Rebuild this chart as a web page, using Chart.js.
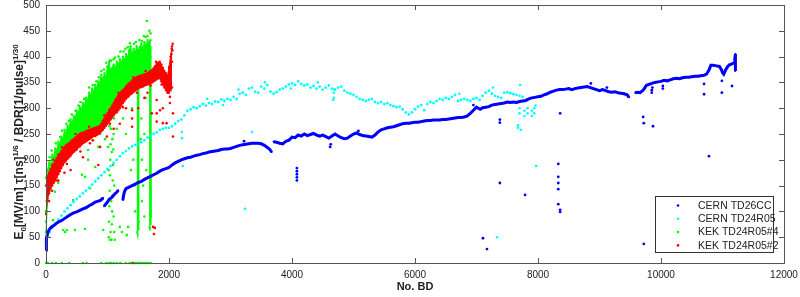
<!DOCTYPE html>
<html>
<head>
<meta charset="utf-8">
<script src="https://cdn.jsdelivr.net/npm/chart.js@4.4.1/dist/chart.umd.min.js"></script>
<style>
html, body { margin: 0; padding: 0; background: #fff; }
</style>
</head>
<body>
<canvas id="bdChart" width="800" height="297"></canvas>
<script>
// Etiquetas y ejes
const seriesNames = ['CERN TD26CC', 'CERN TD24R05', 'KEK TD24R05#4', 'KEK TD24R05#2'];
const seriesColors = ['#0000ff', '#00ffff', '#00ff00', '#ff0000'];
const xTicks = [0, 2000, 4000, 6000, 8000, 10000, 12000];
const yTicks = [0, 50, 100, 150, 200, 250, 300, 350, 400, 450, 500];

// CERN TD26CC (azul) - traza principal, null = hueco
const blueTrack = [
  [0,25],[4,40],[10,48],[20,55],[40,62],[60,66],[90,70],[130,73],[170,77],[210,80],[250,82],[300,86],
  [350,90],[400,94],[450,97],[500,99],[550,102],[600,105],[650,107],[700,111],[750,114],[800,118],
  [850,120],[880,121],[910,124],[930,126],[935,null],
  [945,110],[970,114],[1000,118],[1030,124],[1060,126],[1090,130],[1120,134],[1150,137],[1175,141],[1180,null],
  [1250,122],[1260,130],[1275,138],[1300,144],[1350,147],[1400,150],[1450,153],[1500,156],[1550,158],
  [1600,162],[1650,165],[1700,168],[1750,171],[1800,174],[1850,178],[1900,181],[1950,183],[2000,185],
  [2050,190],[2100,194],[2150,197],[2200,200],[2250,202],[2300,204],[2350,205],[2400,207],[2450,209],
  [2500,210],[2550,212],[2600,213],[2650,215],[2700,216],[2750,217],[2800,218],[2850,220],[2900,221],
  [2950,221],[3000,222],[3050,224],[3100,226],[3150,228],[3200,229],[3250,230],[3300,231],[3350,232],
  [3400,232],[3450,232],[3500,231],[3550,228],[3600,224],[3640,220],[3670,215],[3685,null],
  [3700,235],[3750,234],[3800,232],[3850,231],[3900,236],[3950,238],[4000,244],[4050,243],[4100,248],
  [4150,246],[4200,250],[4250,247],[4300,249],[4350,251],[4400,248],[4450,246],[4500,248],[4550,245],
  [4600,242],[4650,246],[4700,250],[4750,246],[4800,243],[4850,241],[4900,242],[4950,246],[5000,250],
  [5050,252],[5100,249],[5150,247],[5200,246],[5250,245],[5300,244],[5350,248],[5400,254],[5450,258],
  [5500,260],[5550,262],[5600,263],[5650,264],[5700,266],[5750,268],[5800,270],[5850,271],[5900,271],
  [5950,272],[6000,273],[6050,273],[6100,274],[6150,275],[6200,276],[6250,276],[6300,277],[6350,277],
  [6400,277],[6450,278],[6500,278],[6550,279],[6600,280],[6650,281],[6700,282],[6750,282],[6800,283],
  [6850,285],[6900,290],[6950,296],[7000,302],[7030,300],[7060,298],[7100,301],[7150,302],[7200,303],
  [7250,306],[7300,307],[7350,308],[7400,309],[7450,310],[7500,312],[7550,311],[7600,312],[7650,311],
  [7700,313],[7750,314],[7800,315],[7850,318],[7900,320],[7950,321],[8000,322],[8050,323],[8100,326],
  [8150,328],[8200,331],[8250,333],[8300,335],[8350,336],[8400,336],[8450,337],[8500,338],[8550,336],
  [8600,338],[8650,339],[8700,340],[8750,341],[8800,342],[8850,340],[8900,338],[8950,336],[9000,334],
  [9050,336],[9100,334],[9150,332],[9200,331],[9250,332],[9300,330],[9350,329],[9400,328],[9450,326],
  [9480,321],[9500,null],
  [9580,330],[9620,331],[9660,330],[9700,334],[9730,338],[9760,344],[9800,346],[9850,348],[9900,350],
  [9950,351],[10000,352],[10050,354],[10100,353],[10150,355],[10200,357],[10250,358],[10300,357],
  [10350,359],[10400,360],[10450,360],[10500,361],[10550,362],[10600,362],[10650,363],[10700,364],
  [10740,366],[10780,374],[10810,383],[10850,383],[10900,382],[10950,381],[10980,375],[11000,369],
  [11020,366],[11050,374],[11080,380],[11110,384],[11140,385],[11170,387],[11190,388],[11200,395],
  [11210,405],[11215,380],[11205,372]
];
const blueStray = [
  [4080,160],[4080,166],[4080,172],[4080,178],[4080,184],[4620,225],[4630,230],[7105,48],[7170,27],
  [7380,155],[7380,272],[7380,278],[7790,132],[8330,192],[8330,167],[8330,155],[8330,143],[8330,114],
  [8360,103],[8360,99],[8360,290],[9710,283],[9720,271],[9870,265],[10780,207],[9720,37],[10700,347],
  [10700,327],[10990,353],[10990,330],[11155,343],[9850,335],[9850,330],[9860,340],[10030,338],[10030,343],
  [3220,236],[5080,256],[6950,306],[8860,348],[9120,340]
];

// CERN TD24R05 (cian)
const cyanTrack = [
  [0,40],[10,45],[30,52],[60,60],[100,68],[150,76],[200,84],[250,92],[300,100],[350,106],[400,112],
  [450,118],[500,124],[550,129],[600,135],[650,140],[700,146],[750,152],[800,158],[850,164],[900,170],
  [950,176],[1000,182],[1050,188],[1100,194],[1150,200],[1200,207],[1250,213],[1300,217],[1350,222],
  [1400,226],[1450,229],[1500,231],[1550,234],[1600,238],[1650,243],[1700,247],[1750,250],[1800,253],
  [1850,258],[1900,260],[1950,262],[2000,262],[2050,265],[2100,270],[2150,275],[2200,278],[2250,286],
  [2300,295],[2350,298],[2400,302],[2450,300],[2500,304],[2550,308],[2600,305],[2650,310],[2700,308],
  [2750,313],[2800,312],[2850,317],[2900,314],[2950,318],[3000,316],[3050,322],[3100,318],[3150,328],
  [3200,330],[3250,326],[3300,338],[3350,340],[3400,332],[3450,330],[3500,342],[3550,338],[3600,345],
  [3650,332],[3700,328],[3750,331],[3800,336],[3850,338],[3900,342],[3950,346],[4000,348],[4050,345],
  [4100,352],[4150,347],[4200,344],[4250,346],[4300,340],[4350,343],[4400,338],[4450,342],[4500,336],
  [4550,340],[4600,344],[4650,338],[4700,336],[4750,340],[4800,342],[4850,334],[4900,330],[4950,328],
  [5000,326],[5050,322],[5100,318],[5150,316],[5200,314],[5250,316],[5300,318],[5350,312],[5400,310],
  [5450,312],[5500,308],[5550,310],[5600,306],[5650,304],[5700,302],[5750,303],[5800,298],[5850,292],
  [5900,288],[5950,292],[6000,298],[6050,303],[6100,306],[6150,296],[6200,308],[6250,312],[6300,310],
  [6350,314],[6400,318],[6450,316],[6500,320],[6550,318],[6600,322],[6650,326],[6700,314],[6750,316],
  [6800,318],[6850,316],[6900,314],[6950,318],[7000,320],[7050,316],[7100,324],[7150,330],[7200,334],
  [7250,328],[7300,324],[7350,322],[7400,320],[7450,330],[7500,331],[7550,329],[7600,327],[7650,326],
  [7700,324],[7750,322]
];
const cyanStray = [
  [3350,254],[3235,105],[7970,188],[7335,50],[2210,254],[2210,242],[2225,188],[7675,267],[7675,262],
  [7700,290],[7700,300],[7710,345],[7780,285],[7780,295],[7830,290],[7830,300],[7900,285],[7900,295],
  [7940,290],[7940,300],[7960,305],[4680,320],[4680,330],[4690,336],[4670,316],[7720,258],
  [2620,318],[2880,306],[3130,336],[3560,350],[3980,338],[4420,350],[6720,328],[7270,340]
];

// KEK TD24R05#4 (verde) - bordes de la nube densa
const greenLower = [
  [0,60],[25,120],[50,150],[75,160],[100,170],[125,175],[150,180],[175,185],[200,190],[225,195],
  [250,198],[275,202],[300,206],[325,210],[350,214],[375,218],[400,222],[425,225],[450,228],[475,230],
  [500,232],[525,235],[550,238],[575,240],[600,240],[625,242],[650,244],[675,246],[700,248],[725,250],
  [750,250],[775,252],[800,252],[825,254],[850,255],[875,256],[900,258],[925,262],[950,265],[975,270],
  [1000,275],[1025,280],[1050,285],[1075,290],[1100,295],[1125,300],[1150,305],[1175,310],[1200,315],
  [1225,318],[1250,322],[1275,325],[1300,328],[1325,332],[1350,335],[1375,338],[1400,340],[1425,342],
  [1450,345],[1475,346],[1500,348],[1525,350],[1550,350],[1575,352],[1600,352],[1625,354],[1650,355],
  [1675,356],[1700,358]
];
const greenUpper = [
  [0,165],[25,180],[50,195],[75,190],[100,210],[125,205],[150,222],[175,218],[200,235],[225,230],
  [250,245],[275,240],[300,258],[325,252],[350,266],[375,262],[400,278],[425,270],[450,285],[475,280],
  [500,295],[525,290],[550,302],[575,298],[600,310],[625,305],[650,320],[675,315],[700,330],[725,325],
  [750,338],[775,332],[800,345],[825,340],[850,352],[875,348],[900,365],[925,355],[950,368],[975,362],
  [1000,380],[1025,390],[1050,372],[1075,378],[1100,385],[1125,376],[1150,390],[1175,384],[1200,395],
  [1225,388],[1250,400],[1275,392],[1300,405],[1325,398],[1350,412],[1375,420],[1400,405],[1425,415],
  [1450,408],[1475,420],[1500,412],[1525,418],[1550,425],[1575,415],[1600,428],[1625,420],[1650,432],
  [1675,425],[1700,432]
];
const greenColumns = [
  [1480,60],[1487,360],[1492,55],[1497,350],[1502,65],[1507,340],[1512,80],[1515,null],
  [1680,70],[1686,430],[1691,65],[1696,420],[1701,75],[1706,400],[1710,90],[1712,null]
];
const greenStray = [
  [0,60],[0,80],[0,100],[10,120],[30,120],[60,140],[115,83],[145,138],[200,155],[280,64],[310,60],
  [340,64],[440,122],[470,64],[585,171],[635,167],[635,66],[685,219],[685,200],[715,145],[765,238],
  [800,186],[850,225],[930,64],[1010,225],[1120,45],[1200,70],[1235,60],[1315,54],[1335,70],[880,250],
  [960,240],[1150,260],[1250,280],[1300,250],[1400,300],[1420,200],[1440,150],[1550,280],[1560,200],
  [1580,150],[1600,250],[1620,320],[1640,469],[1650,440],[1680,450],[1040,393],[1210,410],[1365,426],
  [1460,428],[1560,430],[1000,380],[900,372],[1100,395],[60,205],[160,232],[260,256],[420,288],
  [560,312],[760,345],[940,375],[1120,398],[1290,415],[1430,425],[1590,440],[330,270],[700,340],
  [90,218],[230,244],[370,275],[480,295],[620,318],[820,352],[980,388],[1180,400],[1330,418],
  [1520,432],[1620,438],[1700,445],[1260,410],[1060,392],[860,360],[530,305],
  [1020,50],[1025,80],[1030,110],[1035,140],[1040,170],[1045,200],[1050,230],[1055,260],[1060,290],
  [1065,45],[1070,75],[1075,100],[1080,130],[1085,160],[1090,190],[1095,220],[1100,250],[1105,280],
  [1110,60],[1110,150],[1040,45],[1060,120],[1070,215],[1030,265],[1090,300],[1050,60],[1100,90],
  [1080,240],[1020,180],[1025,320],[1560,120],[1600,90],[1630,180],[1540,240],[1450,100],[1380,180]
];
const greenZero = [
  [0,0],[30,0],[100,0],[160,0],[260,0],[380,0],[600,0],[660,0],[900,0],[980,0],[1020,0],[1060,0],
  [1100,0],[1150,0],[1210,0],[1300,0],[1360,0],[1400,0],[1430,0],[1460,0],[1490,0],[1520,0],[1550,0],
  [1580,0],[1610,0],[1640,0],[1670,0],[1700,0]
];

// KEK TD24R05#2 (rojo) - bordes de la banda
const redLower = [
  [0,95],[25,125],[50,135],[75,145],[100,150],[125,155],[150,160],[175,166],[200,172],[225,178],
  [250,184],[275,190],[300,195],[325,198],[350,202],[375,205],[400,208],[425,212],[450,215],[475,218],
  [500,220],[525,224],[550,226],[575,229],[600,232],[625,234],[650,236],[675,238],[700,240],[725,242],
  [750,244],[775,246],[800,246],[825,248],[850,250],[875,252],[900,255],[925,258],[950,262],[975,266],
  [1000,270],[1025,274],[1050,278],[1075,282],[1100,286],[1125,290],[1150,292],[1175,296],[1200,300],
  [1225,305],[1250,310],[1275,314],[1300,318],[1325,321],[1350,324],[1375,327],[1400,329],[1425,332],
  [1450,334],[1475,336],[1500,338],[1525,340],[1550,341],[1575,342],[1600,344],[1625,345],[1650,346],
  [1675,347],[1700,349],[1725,350],[1750,352],[1775,354],[1800,356],[1825,358],[1850,358],[1875,352],
  [1900,346],[1925,340],[1950,335],[1975,330],[2000,330],[2025,335],[2050,340]
];
const redUpper = [
  [0,150],[25,168],[50,175],[75,182],[100,190],[125,192],[150,198],[175,203],[200,210],[225,212],
  [250,216],[275,220],[300,225],[325,228],[350,230],[375,232],[400,235],[425,238],[450,240],[475,243],
  [500,245],[525,248],[550,250],[575,252],[600,252],[625,254],[650,255],[675,257],[700,258],[725,259],
  [750,260],[775,261],[800,262],[825,263],[850,264],[875,266],[900,270],[925,276],[950,280],[975,285],
  [1000,290],[1025,296],[1050,300],[1075,305],[1100,310],[1125,316],[1150,320],[1175,325],[1200,328],
  [1225,332],[1250,335],[1275,338],[1300,342],[1325,345],[1350,348],[1375,350],[1400,354],[1425,356],
  [1450,358],[1475,360],[1500,362],[1525,362],[1550,364],[1575,364],[1600,366],[1625,366],[1650,368],
  [1675,370],[1700,372],[1725,374],[1750,378],[1775,382],[1800,386],[1825,388],[1850,390],[1875,385],
  [1900,378],[1925,372],[1950,368],[1975,362],[2000,380],[2025,400],[2050,420]
];
const redStray = [
  [600,205],[850,190],[880,225],[715,232],[990,245],[1770,68],[1755,56],[1740,70],[1800,274],[1800,290],
  [1800,316],[1900,300],[1855,296],[1720,290],[1400,296],[1400,280],[1400,264],[1900,271],[1960,271],
  [2065,290],[2065,245],[2015,322],[2015,310],[2050,390],[2040,405],[2045,415],[2020,360],[2030,350],
  [1300,300],[1200,270],[1100,260],[400,180],[300,175],[200,160],[150,180],[100,140],[50,120],[1500,300],
  [1600,320],[1650,330],[1410,0],[120,200],[260,224],[480,250],[700,264],[950,286],[1180,330],
  [1420,360],[1620,372],[1790,390],[2055,412],[2060,425],[2010,370],[2030,380],
  [180,160],[340,192],[560,216],[760,238],[1040,270],[1250,302],[1480,330],[1700,344],[1880,346]
];

function pts(list) {
  return list.map(p => ({ x: p[0], y: p[1] }));
}

function cloud(list, color, radius) {
  return {
    data: pts(list),
    backgroundColor: color,
    borderColor: color,
    pointRadius: radius,
    pointBorderWidth: 0,
    showLine: false,
    clip: 5
  };
}

function lineSet(list, color, width, radius, fill) {
  return {
    data: pts(list),
    backgroundColor: color,
    borderColor: color,
    borderWidth: width,
    pointRadius: radius,
    pointBorderWidth: 0,
    showLine: true,
    spanGaps: false,
    tension: 0,
    fill: fill || false,
    clip: 5
  };
}

// Marco, marcas interiores, título Y y leyenda
const framePlugin = {
  id: 'frame',
  afterDraw(chart) {
    const { ctx, chartArea: a, scales } = chart;
    ctx.save();
    ctx.strokeStyle = '#555';
    ctx.lineWidth = 1;
    ctx.strokeRect(a.left + 0.5, a.top + 0.5, a.right - a.left, a.bottom - a.top);
    ctx.beginPath();
    xTicks.forEach(v => {
      const px = Math.round(scales.x.getPixelForValue(v)) + 0.5;
      ctx.moveTo(px, a.bottom); ctx.lineTo(px, a.bottom - 5);
      ctx.moveTo(px, a.top); ctx.lineTo(px, a.top + 5);
    });
    yTicks.forEach(v => {
      const py = Math.round(scales.y.getPixelForValue(v)) + 0.5;
      ctx.moveTo(a.left, py); ctx.lineTo(a.left + 5, py);
      ctx.moveTo(a.right, py); ctx.lineTo(a.right - 5, py);
    });
    ctx.stroke();

    // título del eje Y con subíndices y superíndices
    const fam = '"Liberation Sans", Arial, sans-serif';
    const parts = [
      { t: 'E', f: 'bold 12px ' + fam, dy: 0 },
      { t: '0', f: 'bold 8px ' + fam, dy: 3 },
      { t: '[MV/m] \u03c4[ns]', f: 'bold 12px ' + fam, dy: 0 },
      { t: '1/6', f: 'bold 8px ' + fam, dy: -5 },
      { t: ' / BDR[1/pulse]', f: 'bold 12px ' + fam, dy: 0 },
      { t: '1/30', f: 'bold 8px ' + fam, dy: -5 }
    ];
    let total = 0;
    parts.forEach(p => { ctx.font = p.f; p.w = ctx.measureText(p.t).width; total += p.w; });
    ctx.translate(23, (a.top + a.bottom) / 2 + 8);
    ctx.rotate(-Math.PI / 2);
    ctx.fillStyle = '#222';
    ctx.textBaseline = 'alphabetic';
    let cx = -total / 2;
    parts.forEach(p => { ctx.font = p.f; ctx.fillText(p.t, cx, p.dy); cx += p.w; });
    ctx.restore();

    // leyenda
    ctx.save();
    const w = 118, h = 56;
    const lx = a.right - 11 - w, ly = a.bottom - 11 - h;
    ctx.fillStyle = '#fff';
    ctx.fillRect(lx, ly, w, h);
    ctx.strokeStyle = '#333';
    ctx.strokeRect(lx + 0.5, ly + 0.5, w, h);
    ctx.font = '10.5px ' + fam;
    ctx.textBaseline = 'middle';
    seriesNames.forEach((name, i) => {
      const yy = ly + 9.5 + i * 13.3;
      ctx.fillStyle = seriesColors[i];
      ctx.beginPath();
      ctx.arc(lx + 23, yy, 1.3, 0, Math.PI * 2);
      ctx.fill();
      ctx.fillStyle = '#222';
      ctx.fillText(name, lx + 43, yy + 0.5);
    });
    ctx.restore();
  }
};

const tickFont = { family: '"Liberation Sans", Arial, sans-serif', size: 10 };

const ctx = document.getElementById('bdChart').getContext('2d');
const bdChart = new Chart(ctx, {
  type: 'scatter',
  data: {
    // el índice 0 se dibuja encima
    datasets: [
      cloud(redStray, seriesColors[3], 1.3),
      lineSet(redLower, seriesColors[3], 1, 1.2),
      lineSet(redUpper, seriesColors[3], 1, 1.2, '-1'),
      lineSet(blueTrack, seriesColors[0], 3, 1),
      cloud(blueStray, seriesColors[0], 1.4),
      cloud(cyanTrack, seriesColors[1], 1.4),
      cloud(cyanStray, seriesColors[1], 1.3),
      lineSet(greenColumns, seriesColors[2], 1.5, 1),
      cloud(greenStray, seriesColors[2], 1.3),
      cloud(greenZero, seriesColors[2], 1.3),
      lineSet(greenLower, seriesColors[2], 1, 1.2),
      lineSet(greenUpper, seriesColors[2], 1, 1.2, '-1')
    ]
  },
  options: {
    responsive: false,
    animation: false,
    events: [],
    layout: { padding: { left: 0, right: 16, top: 5, bottom: 0 } },
    scales: {
      x: {
        type: 'linear',
        min: 0,
        max: 12000,
        afterBuildTicks: s => { s.ticks = xTicks.map(v => ({ value: v })); },
        afterFit: s => { s.height = 34; s.paddingLeft = 0; s.paddingRight = 0; },
        grid: { display: false, drawTicks: false },
        border: { display: false },
        ticks: { padding: 6, color: '#222', font: tickFont, callback: v => String(v) },
        title: {
          display: true,
          text: 'No. BD',
          color: '#222',
          padding: { top: 0, bottom: 3 },
          font: { family: '"Liberation Sans", Arial, sans-serif', size: 11, weight: 'bold' }
        }
      },
      y: {
        type: 'linear',
        min: 0,
        max: 500,
        afterBuildTicks: s => { s.ticks = yTicks.map(v => ({ value: v })); },
        afterFit: s => { s.width = 46; s.paddingTop = 0; s.paddingBottom = 0; },
        grid: { display: false, drawTicks: false },
        border: { display: false },
        ticks: { padding: 6, color: '#222', font: tickFont, callback: v => String(v) }
      }
    },
    plugins: {
      legend: { display: false },
      tooltip: { enabled: false },
      filler: { propagate: false }
    }
  },
  plugins: [framePlugin]
});
</script>
</body>
</html>
